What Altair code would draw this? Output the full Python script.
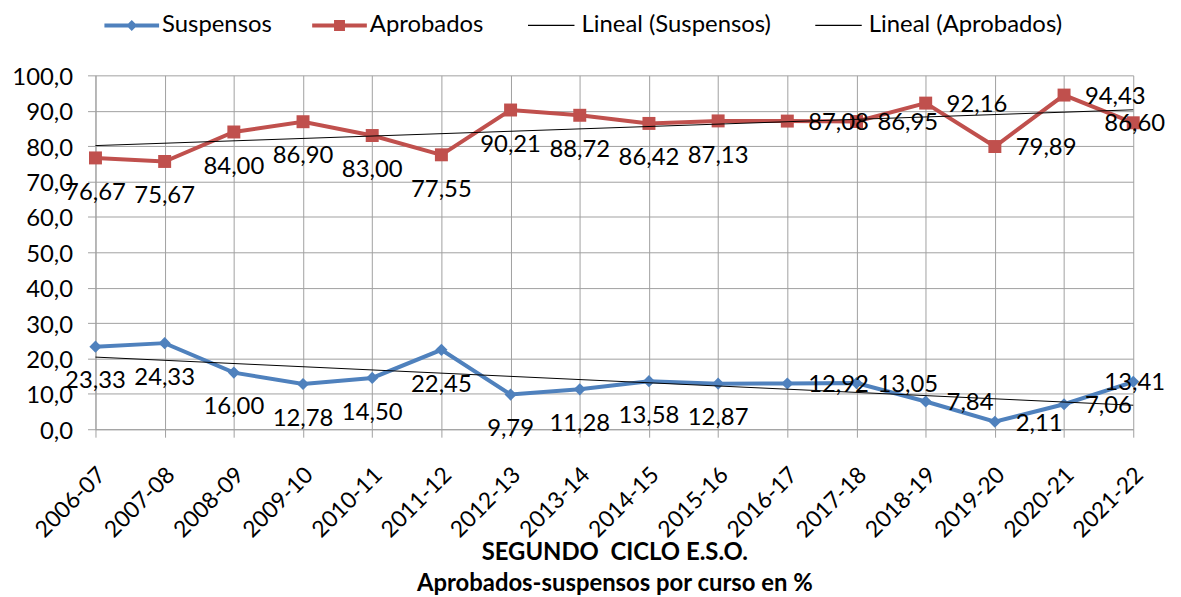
import json
import altair as alt
import pandas as pd

CURSOS = ["2006-07", "2007-08", "2008-09", "2009-10", "2010-11", "2011-12",
          "2012-13", "2013-14", "2014-15", "2015-16", "2016-17", "2017-18",
          "2018-19", "2019-20", "2020-21", "2021-22"]
SUSPENSOS = [23.33, 24.33, 16.00, 12.78, 14.50, 22.45, 9.79, 11.28,
             13.58, 12.87, 12.92, 13.05, 7.84, 2.11, 7.06, 13.41]
APROBADOS = [76.67, 75.67, 84.00, 86.90, 83.00, 77.55, 90.21, 88.72,
             86.42, 87.13, 87.08, 86.95, 92.16, 79.89, 94.43, 86.60]
SERIES = ["Suspensos", "Aprobados"]
LEYENDA = ["Suspensos", "Aprobados", "Lineal (Suspensos)", "Lineal (Aprobados)"]
Y_TICKS = [0, 10, 20, 30, 40, 50, 60, 70, 80, 90, 100]
TITULO = ["SEGUNDO\u00a0 CICLO E.S.O.", "Aprobados-suspensos por curso en %"]

AZUL = "#4F81BD"
ROJO = "#C0504D"
GRIS = "#a0a0a0"
FONT = "Lato"

# legend symbols: line + marker drawn as filled unit paths
SYM_SUSP = "M-1,-0.073H1V0.073H-1ZM0,-0.2L0.2,0L0,0.2L-0.2,0Z"
SYM_APROB = "M-1,-0.073H1V0.073H-1ZM-0.2,-0.2H0.2V0.2H-0.2Z"
SYM_LIN = "M-0.85,-0.02H0.85V0.02H-0.85Z"

rows = []
for i, c in enumerate(CURSOS):
    rows.append({"idx": i, "curso": c, "serie": "Suspensos", "leyenda": "Suspensos", "valor": SUSPENSOS[i]})
    rows.append({"idx": i, "curso": c, "serie": "Aprobados", "leyenda": "Aprobados", "valor": APROBADOS[i]})
df = pd.DataFrame(rows)
df_leyenda = pd.DataFrame({"leyenda": LEYENDA})

n = len(CURSOS)
x_enc = alt.X(
    "idx:Q",
    scale=alt.Scale(domain=[0, n - 1], nice=False, zero=False),
    axis=alt.Axis(
        values=list(range(n)),
        labelExpr=f"{json.dumps(CURSOS)}[datum.value]",
        labelAngle=315, labelAlign="right", labelBaseline="middle",
        labelFontSize=23, labelColor="black", labelPadding=34, labelOffset=6,
        tickSize=8, tickColor=GRIS, domainColor=GRIS, gridColor=GRIS,
        grid=True, labelOverlap=False,
        title=TITULO, titleFontSize=24, titleFontWeight="bold", titleColor="black",
        titleBaseline="top", titleY=112, titleLineHeight=31,
    ),
)
y_enc = alt.Y(
    "valor:Q",
    scale=alt.Scale(domain=[0, 100], nice=False),
    axis=alt.Axis(
        values=Y_TICKS, tickCount=11,
        labelExpr="replace(format(datum.value, '.1f'), '.', ',')",
        labelFontSize=24, labelColor="black", labelPadding=15, labelOffset=2,
        labelOverlap=False,
        tickSize=8, tickColor=GRIS, domainColor=GRIS, gridColor=GRIS,
        grid=True, title=None,
    ),
)

legend = alt.Legend(
    orient="none", legendX=9, legendY=-78, direction="horizontal", title=None,
    columns=4, symbolSize=3025, labelFontSize=24, labelColor="black", labelLimit=0,
    labelOffset=3, columnPadding=40, padding=0, symbolOpacity=1,
    symbolStrokeWidth=0,
)
color_enc = alt.Color("leyenda:N", scale=alt.Scale(domain=LEYENDA, range=[AZUL, ROJO, "black", "black"]),
                      legend=legend)
shape_enc = alt.Shape("leyenda:N", scale=alt.Scale(domain=LEYENDA, range=[SYM_SUSP, SYM_APROB, SYM_LIN, SYM_LIN]),
                      legend=legend)

base = alt.Chart(df)

lines = base.mark_line(strokeWidth=4).encode(x=x_enc, y=y_enc, color=color_enc, detail="serie:N")

pts_susp = base.transform_filter(f"datum.serie === '{SERIES[0]}'").mark_point(
    filled=True, opacity=1, shape="diamond", size=150, color=AZUL
).encode(x=x_enc, y=y_enc)
pts_aprob = base.transform_filter(f"datum.serie === '{SERIES[1]}'").mark_point(
    filled=True, opacity=1, shape="square", size=170, color=ROJO
).encode(x=x_enc, y=y_enc)

trend = base.transform_regression("idx", "valor", groupby=["serie"]).transform_calculate(
    leyenda="'Lineal (' + datum.serie + ')'"
).mark_line(strokeWidth=1).encode(x=x_enc, y=y_enc, color=color_enc, detail="serie:N")

legend_layer = alt.Chart(df_leyenda).mark_point(filled=True, opacity=0).encode(
    x=alt.value(0), y=alt.value(0), color=color_enc, shape=shape_enc,
)

lab = base.transform_calculate(etiqueta="replace(format(datum.valor, '.2f'), '.', ',')")

labels_below = lab.transform_filter("datum.idx <= 9").mark_text(
    fontSize=24, color="black", align="center", baseline="middle", dy=35
).encode(x=x_enc, y=y_enc, text="etiqueta:N")

labels_right = lab.transform_filter("datum.idx >= 10 && datum.idx <= 14").mark_text(
    fontSize=24, color="black", align="left", baseline="middle", dx=21, dy=2
).encode(x=x_enc, y=y_enc, text="etiqueta:N")

labels_last = lab.transform_filter("datum.idx == 15").mark_text(
    fontSize=24, color="black", align="right", baseline="middle", dx=32, dy=1
).encode(x=x_enc, y=y_enc, text="etiqueta:N")

chart = alt.layer(lines, pts_susp, pts_aprob, trend, legend_layer,
                  labels_below, labels_right, labels_last).properties(
    width=1044, height=356,
    autosize=alt.AutoSizeParams(type="none"),
    padding={"left": 88, "top": 66, "right": 40, "bottom": 166},
).configure(font=FONT).configure_view(stroke=None)

chart.save("out.html", embed_options={"renderer": "svg", "actions": False})
